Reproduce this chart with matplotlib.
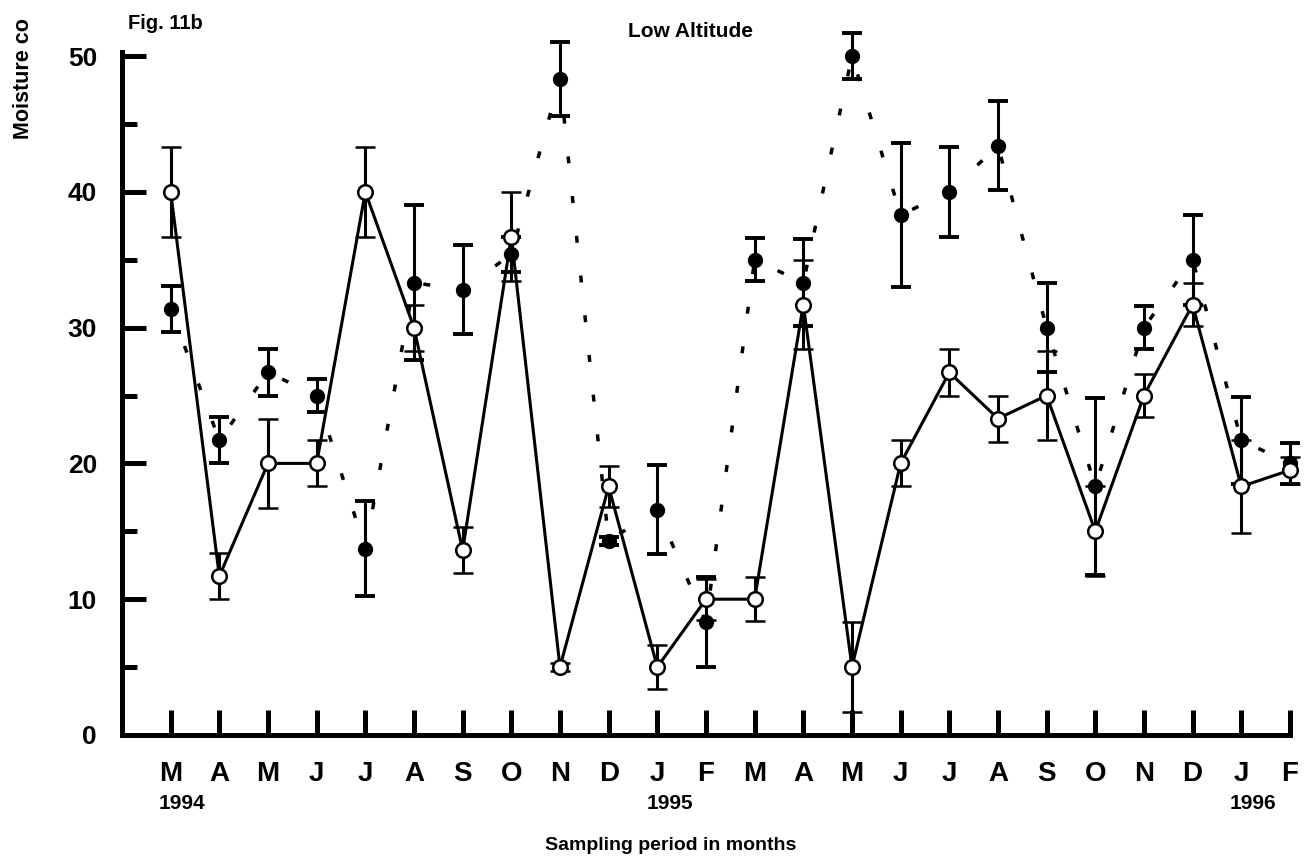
import matplotlib
matplotlib.use("Agg")
import matplotlib.pyplot as plt

# month labels, Mar 1994 .. Feb 1996
months = ["M", "A", "M", "J", "J", "A", "S", "O", "N", "D", "J", "F",
          "M", "A", "M", "J", "J", "A", "S", "O", "N", "D", "J", "F"]
years = ["1994", "1995", "1996"]
year_pos = [-0.25, 9.78, 21.77]

# open circles, solid line
open_vals = [40, 11.7, 20, 20, 40, 30, 13.6, 36.7, 5, 18.3, 5, 10,
             10, 31.7, 5, 20, 26.7, 23.3, 25, 15, 25, 31.7, 18.3, 19.5]
open_err = [3.3, 1.7, 3.3, 1.7, 3.3, 1.7, 1.7, 3.3, 0.3, 1.5, 1.6, 1.5,
            1.6, 3.3, 3.3, 1.7, 1.7, 1.7, 3.3, 3.3, 1.6, 1.6, 3.4, 1.0]

# filled circles, dotted line
filled_vals = [31.4, 21.7, 26.7, 25, 13.7, 33.3, 32.8, 35.4, 48.3, 14.3, 16.6, 8.3,
               35, 33.3, 50, 38.3, 40, 43.4, 30, 18.3, 30, 35, 21.7, 20]
filled_err = [1.7, 1.7, 1.7, 1.2, 3.5, 5.7, 3.3, 1.3, 2.7, 0.3, 3.3, 3.3,
              1.6, 3.2, 1.7, 5.3, 3.3, 3.3, 3.3, 6.5, 1.6, 3.3, 3.2, 1.5]

plt.rcParams["font.family"] = ["Liberation Sans", "DejaVu Sans"]
plt.rcParams["font.weight"] = "bold"

fig = plt.figure(figsize=(13.16, 8.66), dpi=100)
ax = fig.add_axes([0.0927, 0.1513, 0.8875, 0.7887])

x = list(range(len(months)))

filled = ax.errorbar(x, filled_vals, yerr=filled_err, fmt="o", color="black",
                     ms=10, mfc="black", mec="black", lw=2.5,
                     ls=(0, (2.0, 9.5)), elinewidth=2.2, capsize=7.5,
                     capthick=2.8, zorder=2)
opn = ax.errorbar(x, open_vals, yerr=open_err, fmt="o", color="black",
                  ms=10.5, mfc="white", mec="black", mew=1.8, lw=2.2, ls="-",
                  elinewidth=2.2, capsize=7.5, capthick=2.8, zorder=3)
for cont in (filled, opn):
    for art in cont.get_children():
        art.set_clip_on(False)

ax.set_xlim(-1, 23)
ax.set_ylim(0, 50.3)
ax.set_xticks(x)
ax.set_xticklabels(months)
ax.set_yticks([0, 10, 20, 30, 40, 50])
ax.set_yticks([5, 15, 25, 35, 45], minor=True)

for side in ["top", "right"]:
    ax.spines[side].set_visible(False)
for side in ["left", "bottom"]:
    ax.spines[side].set_linewidth(3.6)

ax.tick_params(axis="x", direction="in", length=18, width=3.6, pad=19,
               labelsize=20)
ax.tick_params(axis="y", which="major", direction="in", length=17, width=3.6,
               pad=18, labelsize=19)
ax.tick_params(axis="y", which="minor", direction="in", length=11, width=3.6)

for yr, pos in zip(years, year_pos):
    ax.text(pos, -0.0996, yr, transform=ax.get_xaxis_transform(),
            ha="left", va="center", fontsize=15, fontweight="bold")

fig.text(0.097, 0.973, "Fig. 11b", ha="left", va="center",
         fontsize=14.5, fontweight="bold")
fig.text(0.525, 0.964, "Low Altitude", ha="center", va="center",
         fontsize=15, fontweight="bold")
fig.text(0.51, 0.024, "Sampling period in months", ha="center", va="center",
         fontsize=14, fontweight="bold")
# the reference is cropped at the top; only this much of the label shows
fig.text(0.018, 0.84, "Moisture co", rotation=90, ha="center",
         va="bottom", fontsize=15.5, fontweight="bold")

fig.savefig("out.png", dpi=100)
